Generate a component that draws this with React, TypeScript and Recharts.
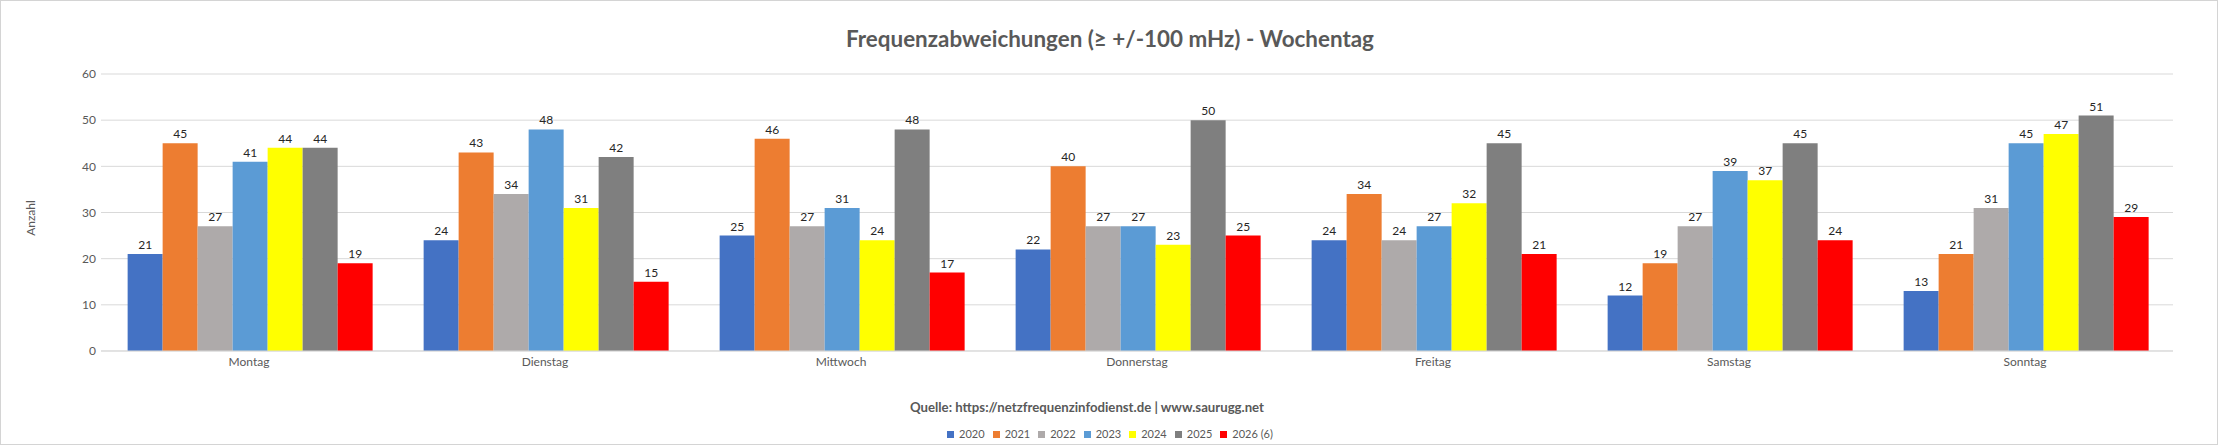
import { BarChart, Bar, XAxis, YAxis, CartesianGrid, LabelList } from "recharts";

const days = ["Montag", "Dienstag", "Mittwoch", "Donnerstag", "Freitag", "Samstag", "Sonntag"];
const years = ["2020", "2021", "2022", "2023", "2024", "2025", "2026 (6)"];
const COLORS = ["#4472C4", "#ED7D31", "#AEAAAA", "#5B9BD5", "#FFFF00", "#7F7F7F", "#FF0000"];

const v2020 = [21, 24, 25, 22, 24, 12, 13];
const v2021 = [45, 43, 46, 40, 34, 19, 21];
const v2022 = [27, 34, 27, 27, 24, 27, 31];
const v2023 = [41, 48, 31, 27, 27, 39, 45];
const v2024 = [44, 31, 24, 23, 32, 37, 47];
const v2025 = [44, 42, 48, 50, 45, 45, 51];
const v2026 = [19, 15, 17, 25, 21, 24, 29];

const yTicks = [0, 10, 20, 30, 40, 50, 60];

const series = [v2020, v2021, v2022, v2023, v2024, v2025, v2026];
const data = days.map((day, i) => {
  const row: Record<string, string | number> = { day };
  years.forEach((y, s) => {
    row[y] = series[s][i];
  });
  return row;
});

const FONT = "Lato, 'Open Sans', sans-serif";

export default function App() {
  return (
    <div
      style={{
        position: "absolute",
        left: 0,
        top: 0,
        width: 2218,
        height: 445,
        boxSizing: "border-box",
        border: "1px solid #d4d4d4",
        background: "#fff",
        fontFamily: FONT,
      }}
    >
      <div style={{ position: "absolute", left: -1, top: -1 }}>
        <BarChart
          width={2218}
          height={445}
          data={data}
          margin={{ top: 74, right: 45, left: 0, bottom: 64 }}
          barCategoryGap="9%"
          barGap={0}
        >
          <CartesianGrid vertical={false} stroke="#d9d9d9" />
          <XAxis
            dataKey="day"
            height={30}
            tickLine={false}
            tickSize={0}
            tickMargin={6}
            axisLine={{ stroke: "#d9d9d9" }}
            tick={{ fill: "#595959", fontSize: 12, fontFamily: FONT }}
          />
          <YAxis
            width={101}
            domain={[0, 60]}
            ticks={yTicks}
            axisLine={false}
            tickLine={false}
            tickSize={0}
            tickMargin={5}
            tick={{ fill: "#595959", fontSize: 12, fontFamily: FONT }}
          />
          {years.map((y, i) => (
            <Bar key={y} dataKey={y} fill={COLORS[i]} isAnimationActive={false}>
              <LabelList dataKey={y} position="top" offset={5} fill="#262626" fontSize={12} fontFamily={FONT} />
            </Bar>
          ))}
        </BarChart>
      </div>

      <div
        style={{
          position: "absolute",
          left: 0,
          width: 2218,
          top: 24,
          textAlign: "center",
          fontSize: 22.4,
          fontWeight: 700,
          color: "#595959",
          lineHeight: "28px",
        }}
      >
        Frequenzabweichungen (≥ +/-100 mHz) - Wochentag
      </div>

      <div
        style={{
          position: "absolute",
          left: 29,
          top: 217,
          transform: "translate(-50%, -50%) rotate(-90deg)",
          fontSize: 12,
          color: "#595959",
          whiteSpace: "nowrap",
        }}
      >
        Anzahl
      </div>

      <div
        style={{
          position: "absolute",
          left: 909,
          top: 398,
          fontSize: 13.2,
          fontWeight: 700,
          color: "#595959",
          whiteSpace: "nowrap",
          lineHeight: "17px",
        }}
      >
        Quelle: https://netzfrequenzinfodienst.de | www.saurugg.net
      </div>

      <div
        style={{
          position: "absolute",
          left: 0,
          width: 2218,
          top: 426,
          display: "flex",
          justifyContent: "center",
          gap: 8,
          fontSize: 11,
          color: "#595959",
          lineHeight: "14px",
        }}
      >
        {years.map((y, i) => (
          <div key={y} style={{ display: "flex", alignItems: "center", gap: 5 }}>
            <span style={{ width: 7, height: 7, background: COLORS[i], display: "inline-block" }} />
            <span>{y}</span>
          </div>
        ))}
      </div>
    </div>
  );
}
